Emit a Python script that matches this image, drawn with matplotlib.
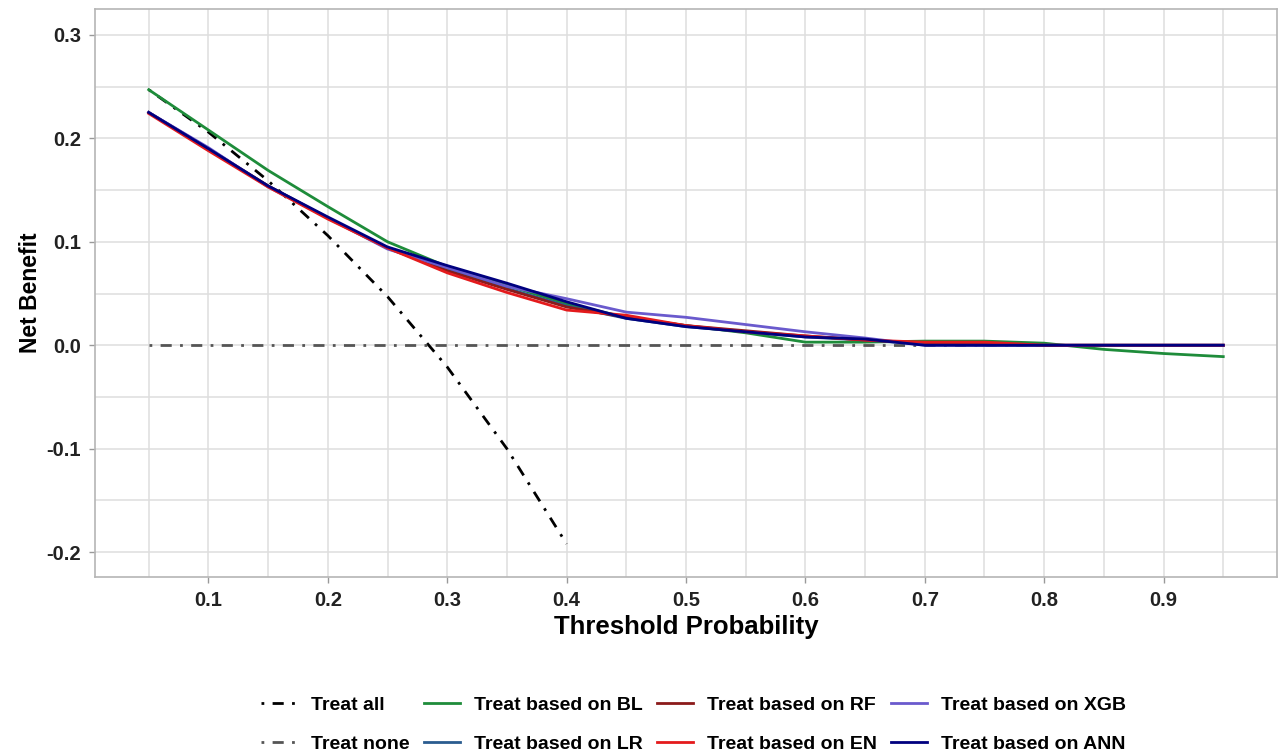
import matplotlib.pyplot as plt
import numpy as np

plt.rcParams['font.family'] = ['Liberation Sans', 'DejaVu Sans']
plt.rcParams['font.weight'] = 'bold'

# threshold probabilities
thresholds = [0.05, 0.10, 0.15, 0.20, 0.25, 0.30, 0.35, 0.40, 0.45, 0.50,
              0.55, 0.60, 0.65, 0.70, 0.75, 0.80, 0.85, 0.90, 0.95]
treat_all_x = [0.05, 0.10, 0.15, 0.20, 0.25, 0.30, 0.35, 0.40]
treat_all = [0.247, 0.206, 0.159, 0.106, 0.047, -0.021, -0.100, -0.192]
treat_none_x = [0.05, 0.95]
treat_none = [0.0, 0.0]

nb_bl = [0.247, 0.208, 0.169, 0.134, 0.100, 0.076, 0.058, 0.040, 0.027, 0.019,
         0.012, 0.003, 0.003, 0.004, 0.004, 0.002, -0.004, -0.008, -0.011]
nb_lr = [0.225, 0.189, 0.154, 0.123, 0.094, 0.073, 0.055, 0.038, 0.026, 0.018,
         0.013, 0.008, 0.005, 0.001, 0.0, 0.0, 0.0, 0.0, 0.0]
nb_rf = [0.225, 0.190, 0.154, 0.123, 0.094, 0.072, 0.054, 0.037, 0.027, 0.019,
         0.014, 0.009, 0.005, 0.002, 0.001, 0.0, 0.0, 0.0, 0.0]
nb_xgb = [0.225, 0.191, 0.153, 0.123, 0.093, 0.075, 0.057, 0.045, 0.032, 0.027,
          0.020, 0.013, 0.007, 0.0, 0.0, 0.0, 0.0, 0.0, 0.0]
nb_en = [0.224, 0.188, 0.153, 0.122, 0.094, 0.070, 0.051, 0.034, 0.029, 0.019,
         0.013, 0.009, 0.005, 0.003, 0.003, 0.0, 0.0, 0.0, 0.0]
nb_ann = [0.225, 0.190, 0.154, 0.124, 0.095, 0.077, 0.060, 0.042, 0.026, 0.018,
          0.013, 0.008, 0.006, 0.0, 0.0, 0.0, 0.0, 0.0, 0.0]

models = [
    ("Treat based on BL", nb_bl, "#1E8C3A"),
    ("Treat based on LR", nb_lr, "#2A5C8F"),
    ("Treat based on RF", nb_rf, "#8B1A1A"),
    ("Treat based on XGB", nb_xgb, "#6A5ACD"),
    ("Treat based on EN", nb_en, "#E41A1C"),
    ("Treat based on ANN", nb_ann, "#00007F"),
]

fig = plt.figure(figsize=(12.82, 7.52), dpi=100)
ax = fig.add_axes([95 / 1282, 175 / 752, 1182 / 1282, 568 / 752])

lw = 2.0
h_all, = ax.plot(treat_all_x, treat_all, color='black', lw=lw,
                 linestyle=(0, (1, 3, 4, 3)), label='Treat all')
h_none, = ax.plot(treat_none_x, treat_none, color='#555555', lw=lw,
                  linestyle=(0, (1, 3, 4, 3)), label='Treat none')
handles = {}
for name, vals, col in models:
    h, = ax.plot(thresholds, vals, color=col, lw=lw, label=name)
    handles[name] = h

ax.set_xlim(0.005, 0.995)
ax.set_ylim(-0.224, 0.325)
ax.set_xticks(np.arange(0.1, 0.91, 0.1))
ax.set_xticks(np.arange(0.05, 1.0, 0.1), minor=True)
ax.set_xticklabels([f"{v:.1f}" for v in np.arange(0.1, 0.91, 0.1)])
ax.set_yticks([-0.2, -0.1, 0.0, 0.1, 0.2, 0.3])
ax.set_yticks([-0.15, -0.05, 0.05, 0.15, 0.25], minor=True)
ax.set_yticklabels(["-0.2", "-0.1", "0.0", "0.1", "0.2", "0.3"])
ax.grid(True, which='both', color='#DEDEDE', lw=1.1)
ax.set_axisbelow(True)
ax.tick_params(which='major', length=4, width=1, color='#999999',
               labelsize=14.5, labelcolor='#222222', pad=6)
ax.tick_params(which='minor', length=0)
for s in ax.spines.values():
    s.set_color('#B5B5B5')
    s.set_linewidth(1.2)

ax.set_xlabel("Threshold Probability", fontsize=18.5, fontweight='bold', labelpad=4)
ax.set_ylabel("Net Benefit", fontsize=16.5, fontweight='bold', labelpad=3)

order = [h_all, h_none,
         handles["Treat based on BL"], handles["Treat based on LR"],
         handles["Treat based on RF"], handles["Treat based on EN"],
         handles["Treat based on XGB"], handles["Treat based on ANN"]]
fig.legend(handles=order, labels=[h.get_label() for h in order], ncol=4,
           loc='center', bbox_to_anchor=(0.541, 0.036), frameon=False,
           fontsize=14, handlelength=1.85, handletextpad=0.7,
           columnspacing=0.75, labelspacing=1.1)

fig.savefig("out.png", dpi=100)
